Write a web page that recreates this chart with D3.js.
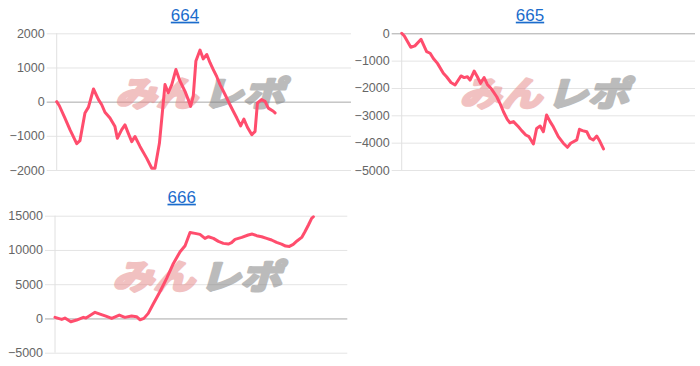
<!DOCTYPE html>
<html><head><meta charset="utf-8">
<script src="https://cdn.jsdelivr.net/npm/d3@7/dist/d3.min.js"></script>
<style>
html,body{margin:0;padding:0;background:#fff;}
svg{display:block;font-family:"Liberation Sans",Arial,Helvetica,sans-serif;}
</style></head>
<body>
<svg id="c" width="700" height="366"></svg>
<script>
// ---- data ----
const titles = ["664", "665", "666"];
const xs664 = [0,0.9,2.8,4.5,6.8,7.9,9.6,10.8,12.5,14.2,15.3,16.4,18.1,19.8,20.6,22.1,23.2,24.3,25.5,26.6,28.3,30.6,32.3,33.4,34.9,36.8,37.9,39.1,40.5,41.9,43.6,44.7,45.5,46.4,47.3,48.7,49.8,51.0,52.1,53.2,54.4,55.5,57.2,58.7,60.0,61.2,62.5,63.6,64.8,66.3,67.4,68.2,69.6,70.8,71.9,73.6,74.2];
const ys664 = [0,-120,-480,-820,-1230,-1140,-330,-160,370,60,-90,-310,-480,-730,-1070,-820,-680,-920,-1170,-1020,-1310,-1660,-1950,-1950,-1220,500,260,500,940,600,300,60,-140,160,1190,1510,1250,1380,1140,940,730,500,210,-60,-280,-480,-710,-510,-750,-970,-870,-40,60,10,-190,-280,-330];
const xs665 = [0,0.9,3.1,4.5,6.6,8.5,9.7,10.8,12.2,14.2,15.3,16.8,18.2,20.2,21.3,22.4,23.3,24.7,25.8,26.9,28.1,29.2,30.7,32.4,33.5,34.7,36.0,36.9,38.1,39.8,40.9,42.3,43.4,44.9,46.0,47.2,48.3,49.4,50.6,51.7,53.4,55.1,56.5,57.6,59.7,60.6,61.6,63.1,64.2,65.3,66.5,67.6,68.8];
const ys665 = [0,-100,-510,-460,-220,-670,-730,-920,-1100,-1460,-1590,-1800,-1890,-1560,-1620,-1590,-1710,-1380,-1590,-1830,-1620,-1870,-2050,-2320,-2560,-2870,-3150,-3270,-3230,-3420,-3560,-3720,-3780,-4050,-3480,-3390,-3600,-2990,-3230,-3420,-3780,-4020,-4170,-4020,-3900,-3510,-3560,-3600,-3840,-3900,-3760,-3960,-4230];
const xs666 = [0,2.3,3.4,5.4,7.4,9.7,10.6,11.7,13.7,15.4,17.4,19.4,22.0,23.9,26.2,27.9,29.1,30.4,31.9,33.6,35.9,38.2,40.5,42.8,44.5,46.2,47.9,49.6,51.3,52.5,54.2,55.9,57.6,59.3,60.4,61.6,63.9,66.1,67.5,69.0,70.7,72.4,74.1,75.8,77.5,78.9,80.2,81.5,82.9,84.4,85.5,86.7,87.8,88.4];
const ys666 = [160,-140,60,-480,-230,160,60,350,890,640,350,10,500,160,350,250,-190,10,740,2100,3900,5850,8040,9740,10620,12560,12420,12270,11690,11930,11690,11250,10960,10860,11060,11540,11830,12180,12320,12080,11930,11690,11450,11100,10860,10570,10520,10810,11350,11830,12660,13640,14610,14850];
const ticks664 = [-2000,-1000,0,1000,2000];
const ticks665 = [-5000,-4000,-3000,-2000,-1000,0];
const ticks666 = [-5000,0,5000,10000,15000];
const watermarkA = "みん";
const watermarkB = "レポ";

// ---- layout ----
const panels = [
  {title:titles[0], xs:xs664, ys:ys664, ticks:ticks664, left:56.7, right:351, top:33.3, bottom:170, tx:185, ty:20.7},
  {title:titles[1], xs:xs665, ys:ys665, ticks:ticks665, left:401.7, right:695, top:33.3, bottom:170, tx:530, ty:20.7},
  {title:titles[2], xs:xs666, ys:ys666, ticks:ticks666, left:55, right:347.3, top:215.7, bottom:352.7, tx:181.7, ty:202.7}
];

const svg = d3.select("#c");
const LINE = "#ff4d6d";

panels.forEach(p => {
  const x = d3.scaleLinear().domain([0,100]).range([p.left, p.right]);
  const y = d3.scaleLinear().domain(d3.extent(p.ticks)).range([p.bottom, p.top]);
  const g = svg.append("g");

  // title
  g.append("text").attr("x", p.tx).attr("y", p.ty)
    .attr("text-anchor","middle").attr("font-size",17)
    .attr("fill","#1b6ccc").attr("text-decoration","underline")
    .text(p.title);

  // grid + axis via d3.axisLeft
  const ax = g.append("g").attr("transform", `translate(${p.left},0)`)
    .call(d3.axisLeft(y).tickValues(p.ticks).tickSize(-(p.right - p.left)).tickPadding(12).tickFormat(d3.format("d")));
  ax.select(".domain").remove();
  ax.selectAll(".tick line")
    .attr("x1", -10)
    .attr("stroke", d => d === 0 ? "#a8a8a8" : "#e4e4e4")
    .attr("stroke-width", 1);
  ax.selectAll(".tick text").attr("font-size", 12.5).attr("fill", "#666")
    .attr("font-family", "'Liberation Sans', Arial, sans-serif");
  // vertical axis line
  g.append("line").attr("x1", p.left).attr("x2", p.left)
    .attr("y1", p.top).attr("y2", p.bottom).attr("stroke", "#e0e0e0");

  // watermark
  const cx = (p.left + p.right)/2, cy = (p.top + p.bottom)/2 - 8;
  const wm = g.append("g").attr("opacity", 0.5)
    .attr("transform", `translate(${cx},${cy}) skewX(-16) scale(1,0.85)`);
  [[watermarkA, -85, "#e58585"], [watermarkB, 2, "#7a7a7a"]].forEach(([t, dx, col]) => {
    wm.append("text").attr("x", dx).attr("y", 15)
      .attr("font-family", "'Noto Sans CJK JP', sans-serif").attr("font-weight", "bold")
      .attr("font-size", 40).attr("textLength", 82).attr("lengthAdjust", "spacingAndGlyphs")
      .attr("fill", col).attr("stroke", col).attr("stroke-width", 3.5)
      .attr("stroke-linejoin", "round").text(t);
  });

  // line
  const pts = p.xs.map((v,i) => [v, p.ys[i]]);
  g.append("path").datum(pts)
    .attr("fill","none").attr("stroke", LINE).attr("stroke-width", 3)
    .attr("stroke-linejoin","round").attr("stroke-linecap","round")
    .attr("d", d3.line().x(d => x(d[0])).y(d => y(d[1])));
});
</script>
</body></html>
